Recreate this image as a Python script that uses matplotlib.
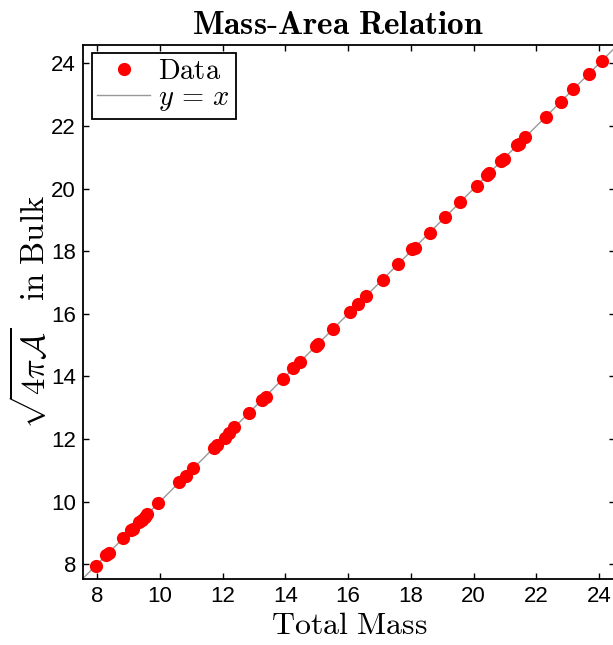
import matplotlib
matplotlib.use("Agg")
import matplotlib.pyplot as plt

plt.rcParams['mathtext.fontset'] = 'cm'
plt.rcParams['font.family'] = ['Liberation Sans', 'DejaVu Sans']

# values
total_mass = [7.97, 8.28, 8.38, 8.83, 9.08, 9.15, 9.33, 9.42, 9.52, 9.59,
              9.95, 10.62, 10.82, 11.06, 11.73, 11.81, 12.06, 12.19, 12.37,
              12.84, 13.24, 13.37, 13.93, 14.25, 14.46, 14.97, 15.05, 15.53,
              16.06, 16.30, 16.58, 17.10, 17.60, 18.05, 18.12, 18.61, 19.09,
              19.57, 20.10, 20.43, 20.50, 20.88, 20.97, 21.38, 21.45, 21.65,
              22.31, 22.79, 23.18, 23.68, 24.08]
sqrt_area = [7.96, 8.29, 8.37, 8.83, 9.09, 9.14, 9.34, 9.43, 9.51, 9.60,
             9.96, 10.63, 10.81, 11.07, 11.72, 11.82, 12.05, 12.18, 12.38,
             12.83, 13.25, 13.36, 13.92, 14.26, 14.45, 14.98, 15.04, 15.52,
             16.05, 16.31, 16.57, 17.09, 17.59, 18.06, 18.11, 18.60, 19.08,
             19.56, 20.09, 20.44, 20.49, 20.89, 20.96, 21.39, 21.44, 21.64,
             22.30, 22.78, 23.17, 23.67, 24.07]
line_ends = [7.5, 24.6]
ticks = [8, 10, 12, 14, 16, 18, 20, 22, 24]

fig = plt.figure(figsize=(6.13, 6.45), dpi=100)
ax = fig.add_axes([0.1354, 0.1023, 0.8676, 0.8284])

ax.plot(total_mass, sqrt_area, 'o', color='red', markersize=9.5,
        markeredgewidth=0, label=r'$\mathrm{Data}$', zorder=3)
ax.plot(line_ends, line_ends, '-', color='#999999', linewidth=1.0,
        label=r'$y\,=\,x$', zorder=2)

ax.set_xlim(7.55, 24.5)
ax.set_ylim(7.53, 24.6)
ax.set_xticks(ticks)
ax.set_yticks(ticks)
ax.tick_params(direction='in', length=4, width=1, labelsize=16,
               top=True, right=True, pad=5)
for s in ax.spines.values():
    s.set_linewidth(1.3)

ax.set_title(r'$\mathbf{Mass\text{-}Area\ Relation}$', fontsize=24, pad=8,
             x=0.48)
ax.set_xlabel(r'$\mathrm{Total\ Mass}$', fontsize=23, labelpad=3)
ax.set_ylabel(r'$\sqrt{4\pi\mathcal{A}}\quad\mathrm{in\ Bulk}$', fontsize=23.5,
              labelpad=-1)

leg = ax.legend(loc='upper left', fontsize=20.5, fancybox=False,
                edgecolor='black', framealpha=1, borderpad=0.2,
                handlelength=1.85, handletextpad=0.3, borderaxespad=0.3,
                labelspacing=0.0)
leg.get_frame().set_linewidth(1.3)

fig.savefig('out.png', dpi=100)
